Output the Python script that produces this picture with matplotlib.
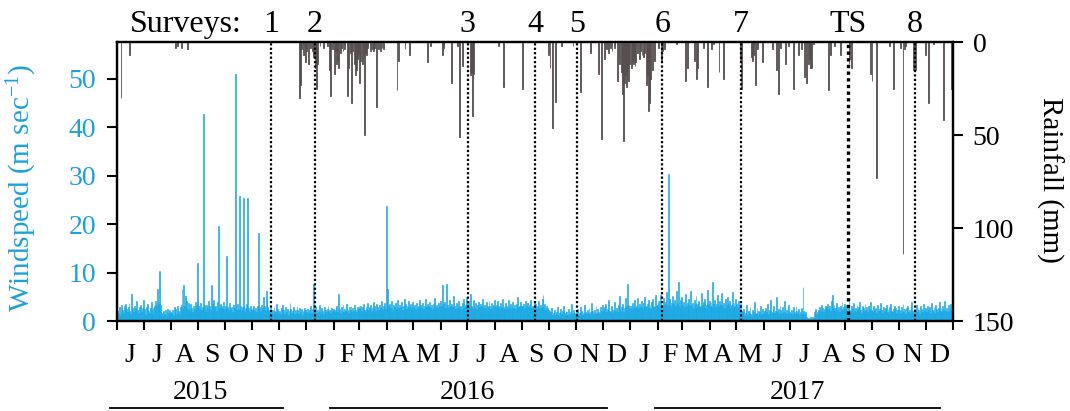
import numpy as np
import pandas as pd
import matplotlib
matplotlib.use("Agg")
import matplotlib.pyplot as plt
from matplotlib.transforms import blended_transform_factory

# ---------------- data ----------------
# daily windspeed, m/s, one row per month
wind_2015 = [
    2.1, 1.4, 2.8, 1.2, 1.9, 3.4, 2.2, 1.6, 3.1, 3.6, 2.4, 1.8, 2.9, 3.8, 2.0, 1.5, 5.6, 2.7, 1.9, 3.2, 2.5, 1.7, 4.1, 2.3, 1.6, 2.8, 3.3, 1.9, 2.6, 4.3,
    1.8, 2.4, 1.3, 2.9, 3.5, 2.1, 1.6, 2.7, 3.9, 2.2, 1.5, 2.6, 3.1, 4.2, 3.4, 6.7, 3.8, 2.9, 10.4, 3.3, 1.7, 1.2, 2.0, 1.4, 2.3, 1.1, 1.8, 2.5, 1.6, 2.2, 1.9,
    1.6, 2.3, 1.2, 2.8, 1.9, 2.5, 1.4, 3.2, 2.1, 1.7, 2.9, 3.4, 6.7, 2.6, 7.4, 3.1, 5.2, 4.1, 2.4, 3.8, 2.2, 1.8, 3.5, 2.7, 1.9, 3.0, 2.4, 4.0, 3.3, 12.0, 4.4,
    3.1, 2.4, 3.7, 2.2, 2.9, 42.7, 3.4, 2.6, 1.9, 3.3, 2.7, 4.1, 3.0, 2.3, 7.4, 3.6, 2.5, 4.3, 2.8, 3.2, 2.0, 3.9, 19.7, 2.7, 3.5, 2.1, 3.0, 2.6, 4.0, 2.4,
    3.2, 13.5, 2.6, 3.0, 2.1, 3.7, 2.5, 2.9, 1.8, 3.4, 2.7, 51.0, 3.1, 2.2, 3.6, 2.4, 25.8, 3.0, 2.3, 2.8, 25.4, 3.3, 2.0, 2.6, 3.5, 25.4, 2.7, 1.9, 3.1, 2.5, 2.2,
    2.4, 3.0, 2.1, 2.7, 1.8, 3.2, 18.1, 2.5, 2.9, 2.0, 3.4, 2.6, 5.0, 3.1, 2.3, 6.2, 4.4, 2.8, 2.2, 1.9, 2.6, 1.7, 2.3, 1.5, 2.9, 2.1, 1.8, 3.6, 2.4, 1.6,
    2.0, 1.4, 2.6, 1.8, 3.3, 2.2, 1.5, 2.9, 1.9, 2.4, 1.3, 2.1, 3.7, 2.5, 1.6, 2.0, 2.8, 1.4, 2.3, 1.7, 3.0, 2.2, 1.5, 2.6, 1.9, 2.4, 1.2, 2.0, 2.7, 1.8, 2.3,
]
wind_2016 = [
    1.9, 2.5, 1.6, 2.2, 3.1, 1.7, 2.4, 1.5, 7.7, 2.0, 2.8, 1.6, 2.3, 1.9, 3.4, 2.1, 1.7, 2.6, 2.0, 1.5, 2.9, 2.2, 1.8, 2.5, 3.2, 1.9, 2.3, 1.6, 2.7, 2.0, 2.4,
    2.2, 1.8, 2.7, 3.0, 1.9, 5.6, 2.4, 1.7, 2.9, 2.1, 3.3, 1.8, 2.5, 2.0, 3.6, 2.3, 1.6, 2.8, 2.2, 3.1, 1.9, 2.6, 2.0, 3.4, 2.3, 1.8, 2.9, 2.5, 3.2,
    2.6, 3.2, 2.0, 2.8, 3.5, 2.3, 1.9, 3.0, 2.5, 3.7, 2.2, 2.9, 3.3, 2.1, 2.7, 4.0, 2.4, 3.1, 2.0, 3.6, 2.8, 2.3, 3.4, 2.6, 4.2, 2.9, 2.2, 3.0, 3.8, 2.5, 23.7,
    6.7, 3.0, 2.4, 3.6, 2.7, 4.1, 2.2, 3.3, 2.9, 3.8, 2.5, 3.1, 4.4, 2.6, 3.4, 2.8, 3.9, 2.3, 3.2, 4.6, 2.7, 3.5, 2.4, 3.0, 4.2, 2.8, 3.6, 2.5, 3.3, 4.0,
    2.9, 3.4, 2.5, 3.8, 2.7, 3.1, 4.3, 2.6, 3.3, 2.8, 3.7, 2.4, 3.0, 4.5, 2.9, 3.5, 2.6, 3.2, 3.9, 2.7, 3.4, 2.5, 3.6, 4.8, 3.0, 2.7, 3.3, 2.6, 3.8, 3.1, 4.1,
    3.2, 7.4, 2.8, 3.5, 4.0, 2.6, 7.7, 3.3, 2.7, 4.4, 3.0, 2.5, 3.6, 2.9, 5.1, 3.2, 2.4, 3.8, 2.7, 3.4, 4.2, 2.8, 3.1, 2.5, 3.7, 4.6, 2.9, 3.3, 2.6, 4.9,
    3.5, 4.1, 2.8, 5.6, 3.2, 2.6, 4.3, 3.0, 2.7, 3.8, 2.4, 3.3, 4.0, 2.9, 3.6, 2.5, 3.1, 4.5, 2.8, 3.4, 2.6, 3.9, 3.0, 2.7, 4.2, 3.2, 2.5, 3.7, 2.9, 3.3, 4.4,
    2.8, 3.4, 2.5, 4.1, 3.0, 2.6, 3.7, 2.9, 4.6, 2.7, 3.2, 2.4, 3.8, 3.1, 2.6, 4.3, 2.9, 3.5, 2.5, 3.0, 4.0, 2.7, 3.3, 2.4, 3.6, 4.9, 2.8, 3.1, 2.6, 3.9, 3.2,
    3.0, 3.6, 2.7, 4.2, 3.1, 2.5, 3.8, 2.9, 3.3, 4.4, 2.6, 3.2, 2.8, 3.9, 2.4, 3.5, 2.7, 3.0, 4.1, 2.6, 3.4, 2.8, 4.5, 5.3, 2.9, 3.6, 2.3, 3.1, 2.6, 2.2,
    2.0, 1.4, 1.8, 2.6, 1.2, 1.6, 2.2, 1.3, 1.9, 2.8, 1.5, 1.1, 1.7, 2.4, 1.4, 2.0, 3.1, 1.6, 1.3, 2.1, 1.8, 1.2, 2.5, 1.5, 1.9, 3.6, 1.4, 1.7, 2.3, 1.6, 1.3,
    1.8, 2.4, 1.3, 1.6, 2.9, 1.5, 2.1, 1.2, 1.7, 3.4, 1.9, 1.4, 2.2, 1.6, 2.7, 1.3, 1.8, 3.8, 2.0, 1.5, 2.3, 1.7, 3.1, 1.4, 2.5, 1.9, 1.6, 2.8, 2.1, 3.3,
    2.2, 1.7, 2.9, 3.6, 1.9, 2.5, 4.4, 2.1, 1.8, 3.2, 2.6, 1.6, 2.3, 3.9, 2.0, 2.7, 1.8, 3.4, 2.4, 5.2, 2.1, 2.8, 3.5, 1.9, 2.6, 4.7, 3.0, 2.4, 7.7, 3.3, 2.7,
]
wind_2017 = [
    3.1, 2.5, 3.8, 2.8, 4.3, 3.4, 2.6, 3.0, 4.8, 2.7, 3.5, 2.9, 4.1, 3.2, 2.4, 3.7, 5.0, 3.0, 2.8, 3.6, 4.4, 2.7, 3.3, 2.5, 3.9, 4.6, 3.1, 2.9, 5.3, 3.4, 3.0,
    3.5, 4.2, 2.9, 5.4, 3.3, 3.0, 4.7, 3.6, 2.8, 4.0, 5.9, 3.4, 30.4, 4.5, 3.1, 3.8, 5.2, 2.9, 3.5, 4.3, 3.2, 6.1, 3.7, 8.1, 3.0, 4.4, 3.3, 5.0,
    3.4, 4.0, 2.8, 5.5, 3.2, 3.7, 2.9, 4.6, 3.3, 6.2, 3.0, 3.8, 2.7, 4.3, 3.5, 5.1, 2.9, 3.6, 4.2, 3.1, 2.8, 5.8, 3.4, 3.9, 3.0, 4.5, 2.7, 3.3, 6.4, 3.6, 4.1,
    3.2, 3.9, 2.8, 8.0, 3.5, 4.4, 2.9, 3.6, 5.3, 3.1, 2.7, 4.1, 3.4, 5.7, 3.0, 3.8, 2.6, 4.5, 3.3, 2.9, 5.0, 3.6, 4.2, 2.8, 3.4, 6.0, 3.1, 3.7, 2.9, 4.6,
    3.5, 2.8, 4.2, 3.0, 3.6, 2.1, 1.4, 1.8, 2.5, 1.2, 1.6, 3.4, 1.3, 2.0, 1.7, 2.8, 1.5, 1.1, 2.3, 1.9, 3.9, 1.4, 1.6, 2.6, 1.3, 2.1, 1.8, 3.1, 1.5, 2.4, 1.7,
    2.0, 1.5, 2.7, 1.8, 3.6, 1.4, 2.2, 4.4, 1.9, 1.6, 2.5, 3.2, 1.7, 2.1, 5.0, 1.8, 2.4, 1.5, 3.0, 2.2, 1.6, 2.8, 1.9, 4.1, 1.7, 2.3, 1.5, 2.6, 3.4, 1.8,
    1.7, 2.3, 1.4, 2.8, 1.9, 1.5, 3.1, 2.0, 1.6, 2.4, 1.3, 1.8, 2.6, 1.5, 7.0, 2.1, 1.4, 1.9, 0.8, 0.5, 0.7, 0.4, 0.9, 0.6, 0.5, 0.8, 0.6, 1.8, 2.4, 1.5, 1.9,
    2.3, 1.8, 2.9, 2.1, 3.4, 2.6, 1.9, 2.5, 3.1, 2.2, 2.8, 3.6, 2.4, 3.0, 2.0, 4.1, 5.3, 2.7, 3.3, 2.1, 2.6, 3.8, 2.3, 2.9, 1.9, 3.2, 2.5, 4.0, 2.2, 2.8, 3.5,
    2.6, 3.3, 2.0, 2.8, 4.2, 2.3, 1.8, 3.0, 2.5, 3.7, 2.1, 2.7, 1.9, 3.4, 2.4, 2.9, 4.0, 2.2, 1.7, 3.1, 2.6, 2.0, 3.5, 2.3, 2.8, 1.8, 3.2, 2.5, 3.9, 2.1,
    2.4, 1.9, 3.0, 2.2, 2.7, 1.6, 3.4, 2.1, 2.5, 1.8, 3.8, 2.3, 1.7, 2.9, 2.0, 2.6, 3.3, 1.9, 2.4, 1.5, 2.8, 3.6, 2.1, 1.8, 2.5, 3.1, 2.0, 2.7, 1.6, 2.3, 3.0,
    2.2, 1.7, 2.9, 2.0, 3.5, 1.8, 2.4, 1.5, 2.7, 3.2, 1.9, 2.3, 1.6, 2.8, 3.9, 2.1, 1.7, 2.5, 2.0, 3.3, 1.8, 2.6, 2.2, 1.5, 3.0, 2.4, 1.9, 3.6, 2.1, 2.7,
    2.5, 1.9, 3.2, 2.2, 2.8, 1.7, 3.7, 2.3, 2.0, 2.9, 1.6, 3.4, 2.4, 1.8, 2.7, 3.9, 2.1, 2.6, 1.9, 3.1, 2.3, 4.1, 2.0, 2.7, 1.8, 3.3, 2.5, 2.1, 3.6, 2.4, 2.9,
]

# daily rainfall events (mm)
rain_dates = [
    "2015-06-05", "2015-06-15", "2015-08-06", "2015-08-08", "2015-08-12", "2015-08-19",
    "2015-12-24", "2015-12-25", "2015-12-26", "2015-12-28", "2015-12-30", "2015-12-31",
    "2016-01-01", "2016-01-03", "2016-01-05", "2016-01-07", "2016-01-09", "2016-01-10", "2016-01-11",
    "2016-01-12", "2016-01-13", "2016-01-16", "2016-01-20", "2016-01-24", "2016-01-27", "2016-01-28",
    "2016-01-30", "2016-02-01", "2016-02-02", "2016-02-04", "2016-02-05", "2016-02-06", "2016-02-08",
    "2016-02-09", "2016-02-11", "2016-02-13", "2016-02-16", "2016-02-17", "2016-02-19", "2016-02-21",
    "2016-02-22", "2016-02-24", "2016-02-25", "2016-02-26", "2016-02-27", "2016-02-28", "2016-03-01",
    "2016-03-02", "2016-03-04", "2016-03-05", "2016-03-06", "2016-03-07", "2016-03-09", "2016-03-10",
    "2016-03-13", "2016-03-15", "2016-03-16", "2016-03-18", "2016-03-20", "2016-03-22", "2016-03-24",
    "2016-03-26", "2016-03-28", "2016-04-12", "2016-04-14", "2016-04-21", "2016-04-26", "2016-05-16",
    "2016-05-20", "2016-06-02", "2016-06-04", "2016-06-13", "2016-06-19", "2016-06-22", "2016-06-25",
    "2016-07-04", "2016-07-05", "2016-07-06", "2016-07-07", "2016-08-05", "2016-08-10", "2016-09-01",
    "2016-09-30", "2016-10-02", "2016-10-05", "2016-10-08", "2016-10-15", "2016-10-28", "2016-11-05",
    "2016-11-17", "2016-11-26", "2016-11-29", "2016-12-03", "2016-12-05", "2016-12-07", "2016-12-09",
    "2016-12-11", "2016-12-14", "2016-12-17", "2016-12-19", "2016-12-20", "2016-12-22", "2016-12-23",
    "2016-12-24", "2016-12-25", "2016-12-26", "2016-12-27", "2016-12-28", "2016-12-29", "2016-12-30",
    "2016-12-31", "2017-01-02", "2017-01-03", "2017-01-04", "2017-01-05", "2017-01-06", "2017-01-07",
    "2017-01-09", "2017-01-11", "2017-01-12", "2017-01-14", "2017-01-16", "2017-01-17", "2017-01-19",
    "2017-01-20", "2017-01-21", "2017-01-22", "2017-01-23", "2017-01-24", "2017-01-26", "2017-01-28",
    "2017-02-02", "2017-02-05", "2017-02-06", "2017-02-08", "2017-02-22", "2017-03-04", "2017-03-06",
    "2017-03-14", "2017-03-17", "2017-03-18", "2017-03-24", "2017-03-29", "2017-04-03", "2017-04-05",
    "2017-04-11", "2017-04-16", "2017-05-05", "2017-05-06", "2017-05-18", "2017-05-19", "2017-05-20",
    "2017-05-22", "2017-05-25", "2017-05-30", "2017-06-10", "2017-06-15", "2017-06-17", "2017-06-20",
    "2017-06-25", "2017-06-29", "2017-07-04", "2017-07-10", "2017-07-13", "2017-07-17", "2017-07-19",
    "2017-07-21", "2017-07-22", "2017-07-23", "2017-07-25", "2017-07-27", "2017-08-13", "2017-08-15",
    "2017-08-20", "2017-08-26", "2017-09-05", "2017-09-06", "2017-09-08", "2017-09-29", "2017-10-01",
    "2017-10-06", "2017-10-21", "2017-10-25", "2017-11-02", "2017-11-05", "2017-11-07", "2017-11-08",
    "2017-11-17", "2017-11-18", "2017-11-19", "2017-11-30", "2017-12-04", "2017-12-09", "2017-12-21",
    "2017-12-30",
]
rain_mm = [
    30, 7, 3, 2, 3, 4,
    30, 23, 4, 7, 3, 11,
    5, 12, 3, 5, 8, 6, 14,
    25, 12, 2, 3, 2, 15, 29,
    4, 17, 5, 12, 10, 14, 6,
    3, 5, 4, 29, 14, 6, 33,
    5, 12, 18, 15, 9, 7, 22,
    10, 12, 8, 50, 6, 7, 3,
    5, 4, 5, 3, 35, 4, 5,
    3, 4, 26, 10, 4, 7, 11,
    2, 7, 3, 22, 2, 51, 13,
    18, 16, 40, 17, 2, 24, 25,
    7, 14, 46, 32, 2, 2, 27,
    6, 17, 52, 9, 4, 6, 3,
    5, 3, 21, 8, 12, 16, 28,
    53, 22, 18, 24, 20, 15, 21,
    12, 14, 10, 12, 8, 13, 11,
    6, 9, 5, 7, 8, 6, 23,
    18, 37, 33, 28, 20, 15, 10,
    3, 10, 5, 4, 1, 21, 14,
    10, 20, 14, 3, 24, 4, 1,
    16, 20, 10, 25, 8, 10, 7,
    23, 4, 11, 4, 15, 28, 3,
    12, 2, 25, 7, 4, 19, 22,
    12, 9, 14, 14, 1, 26, 7,
    2, 7, 12, 9, 14, 17, 21,
    73, 2, 25, 3, 114, 4, 2,
    15, 8, 15, 7, 33, 1, 42,
    25,
]

survey_labels = ["1", "2", "3", "4", "5", "6", "7", "TS", "8"]
survey_dates = ["2015-11-22", "2016-01-10", "2016-07-01", "2016-09-15", "2016-11-02",
                "2017-02-06", "2017-05-06", "2017-09-04", "2017-11-18"]

years = ["2015", "2016", "2017"]
wind_ticks = [0, 10, 20, 30, 40, 50]
rain_ticks = [0, 50, 100, 150]

# ---------------- style ----------------
CYAN = "#1AA9E3"
CYAN_TXT = "#1DA1DA"
GREY = "#574f4f"
FS = 20        # ticks, months, years
FS_TITLE = 21  # axis titles
FS_SURV = 23   # survey row

plt.rcParams["font.family"] = ["Liberation Serif", "DejaVu Serif"]
plt.rcParams["mathtext.fontset"] = "custom"
plt.rcParams["mathtext.rm"] = "Liberation Serif"
plt.rcParams["mathtext.it"] = "Liberation Serif"

W, H = 1070, 411
fig = plt.figure(figsize=(W / 100, H / 100), dpi=100)
L, R, T, B = 117, 953, 42, 321
ax = fig.add_axes([L / W, 1 - B / H, (R - L) / W, (B - T) / H])

start = pd.Timestamp("2015-06-01")
end = pd.Timestamp("2018-01-01")
wind = np.array(wind_2015 + wind_2016 + wind_2017)
days = np.arange(len(wind))

ax.bar(days, wind, width=1.0, align="edge", color=CYAN, edgecolor=CYAN, linewidth=0.45, zorder=2)
ax.set_xlim(0, (end - start).days)
ax.set_ylim(0, 57.6)

ax2 = ax.twinx()
rday = np.array((pd.to_datetime(rain_dates) - start).days)
ax2.bar(rday, rain_mm, width=1.0, align="edge", color=GREY, edgecolor=GREY, linewidth=0.6, zorder=2)
ax2.set_ylim(150, 0)

# survey lines
sday = np.array((pd.to_datetime(survey_dates) - start).days) + 0.5
for lab, d in zip(survey_labels, sday):
    ax2.axvline(d, color="black", linestyle=(0, (1, 1)), linewidth=1.6 if lab != "TS" else 2.4, zorder=5)

# axes styling
for a in (ax, ax2):
    for s in a.spines.values():
        s.set_linewidth(1.6)
        s.set_color("black")

ax.set_yticks(wind_ticks)
ax.set_yticklabels([str(v) for v in wind_ticks], color=CYAN_TXT, fontsize=FS)
ax.tick_params(axis="y", direction="out", length=7.2, width=1.5, pad=8, colors="black", labelcolor=CYAN_TXT)
ax2.set_yticks(rain_ticks)
ax2.set_yticklabels([str(v) for v in rain_ticks], fontsize=FS)
ax2.tick_params(axis="y", direction="out", length=7.2, width=1.5, pad=7)

month_starts = pd.date_range(start, end, freq="MS")
mpos = np.array((month_starts - start).days)
ax.set_xticks(mpos)
ax.set_xticklabels([])
ax.tick_params(axis="x", direction="out", length=6.5, width=1.5)

# month letters centred in each month
trans_x = blended_transform_factory(ax.transData, fig.transFigure)
for a, b, ms in zip(mpos[:-1], mpos[1:], month_starts[:-1]):
    fig.text((a + b) / 2, 1 - 362 / H, ms.strftime("%b")[0], transform=trans_x,
             ha="center", va="baseline", fontsize=FS)

# year labels and underlines (layout positions in pixels)
year_x = [200, 467, 797]
year_lines = [(110, 283), (330, 607), (655, 940)]
for y, xc, (x0, x1) in zip(years, year_x, year_lines):
    fig.text(xc / W, 1 - 399 / H, y, ha="center", va="baseline", fontsize=FS)
    fig.add_artist(plt.Line2D([x0 / W, x1 / W], [1 - 407.5 / H] * 2, color="black",
                              linewidth=1.3, transform=fig.transFigure))

# survey labels
fig.text(130 / W, 1 - 32 / H, "Surveys:", ha="left", va="baseline", fontsize=FS_SURV)
for lab, d in zip(survey_labels, sday):
    fig.text(d, 1 - 32 / H, lab, transform=trans_x, ha="center", va="baseline", fontsize=FS_SURV)

# axis titles
fig.text(22 / W, 1 - 188 / H, r"Windspeed (m sec$^{-1}$)", rotation=90, ha="center", va="center",
         color=CYAN_TXT, fontsize=FS_TITLE)
fig.text(1050 / W, 1 - 180 / H, "Rainfall (mm)", rotation=270, ha="center", va="center",
         fontsize=FS_TITLE)

fig.savefig("out.png", dpi=100)
